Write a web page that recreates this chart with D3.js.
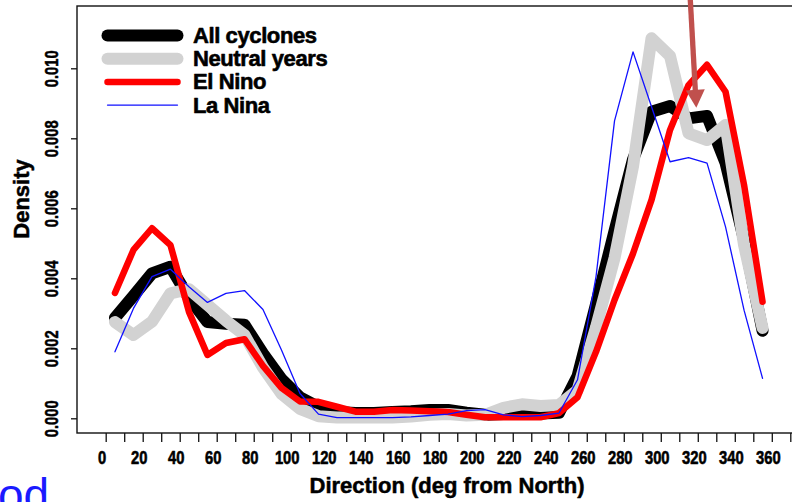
<!DOCTYPE html>
<html>
<head>
<meta charset="utf-8">
<script src="https://cdn.jsdelivr.net/npm/d3@7"></script>
<style>
  html, body { margin: 0; padding: 0; background: #fff; overflow: hidden; }
  svg { display: block; }
  text { font-family: "Liberation Sans", Arial, sans-serif; }
</style>
</head>
<body>
<svg id="chart" width="792" height="502"></svg>
<script>
// Cyclone track direction densities, one value per 10-degree bin (bin centres)
const directions = [5, 15, 25, 35, 45, 55, 65, 75, 85, 95, 105, 115, 125, 135, 145, 155, 165, 175,
                    185, 195, 205, 215, 225, 235, 245, 255, 265, 275, 285, 295, 305, 315, 325, 335, 345, 355];

const allCyclones = [0.00287, 0.00350, 0.00414, 0.00433, 0.00344, 0.00275, 0.00270, 0.00267, 0.00185,
                     0.00112, 0.00060, 0.00032, 0.00018, 0.00015, 0.00015, 0.00018, 0.00020, 0.00024,
                     0.00024, 0.00016, 0.00010, 0.00012, 0.00018, 0.00014, 0.00016, 0.00120, 0.00326,
                     0.00535, 0.00740, 0.00876, 0.00892, 0.00857, 0.00864, 0.00730, 0.00510, 0.00250];

const neutralYears = [0.00275, 0.00238, 0.00276, 0.00357, 0.00369, 0.00324, 0.00279, 0.00238, 0.00145,
                      0.00070, 0.00027, 0.00006, 0.00002, 0.00002, 0.00002, 0.00002, 0.00005, 0.00010,
                      0.00012, 0.00008, 0.00010, 0.00030, 0.00040, 0.00035, 0.00038, 0.00080, 0.00260,
                      0.00458, 0.00720, 0.01086, 0.01035, 0.00814, 0.00795, 0.00838, 0.00495, 0.00258];

const elNino = [0.00358, 0.00481, 0.00543, 0.00495, 0.00304, 0.00181, 0.00215, 0.00226, 0.00150,
                0.00087, 0.00048, 0.00047, 0.00033, 0.00019, 0.00019, 0.00024, 0.00022, 0.00020,
                0.00018, 0.00010, 0.00003, 0.00003, 0.00003, 0.00003, 0.00015, 0.00060, 0.00190,
                0.00338, 0.00471, 0.00624, 0.00824, 0.00952, 0.01010, 0.00933, 0.00667, 0.00333];

const laNina = [0.00190, 0.00314, 0.00405, 0.00426, 0.00376, 0.00331, 0.00357, 0.00365, 0.00311,
                0.00195, 0.00071, 0.00012, 0.00002, 0.00002, 0.00002, 0.00002, 0.00004, 0.00008,
                0.00012, 0.00022, 0.00025, 0.00010, 0.00005, 0.00008, 0.00015, 0.00110, 0.00405,
                0.00850, 0.01047, 0.00890, 0.00733, 0.00745, 0.00729, 0.00547, 0.00309, 0.00114];

const seriesNames = ["All cyclones", "Neutral years", "El Nino", "La Nina"];

const xTickValues = [0, 10, 20, 30, 40, 50, 60, 70, 80, 90, 100, 110, 120, 130, 140, 150, 160, 170, 180,
                     190, 200, 210, 220, 230, 240, 250, 260, 270, 280, 290, 300, 310, 320, 330, 340, 350, 360, 370];
const xLabelValues = [0, 20, 40, 60, 80, 100, 120, 140, 160, 180, 200, 220, 240, 260, 280, 300, 320, 340, 360];
const yTickValues = [0, 0.002, 0.004, 0.006, 0.008, 0.010];

// Annotation arrow, in data units (direction, density)
const arrowFrom = [315.8, 0.0121];
const arrowTo = [319.2, 0.00887];

// ---- drawing ----
const svg = d3.select("#chart");
svg.append("rect").attr("width", 792).attr("height", 502).attr("fill", "#fff");

const x = d3.scaleLinear().domain([0, 370]).range([105.7, 790.3]);
const y = d3.scaleLinear().domain([0, 0.010]).range([418.3, 68.3]);

const series = [allCyclones, neutralYears, elNino, laNina];
const styles = [
  { color: "#000000", width: 12 },
  { color: "#d2d2d2", width: 12 },
  { color: "#ff0000", width: 6.5 },
  { color: "#1010ff", width: 1.3 }
];

// heavier bold text, as in the printed figure
function heavy(sel, w) {
  sel.attr("stroke", "#000").attr("stroke-width", w).attr("stroke-linejoin", "round");
}

// plot frame
svg.append("rect")
  .attr("x", 77).attr("y", 6)
  .attr("width", 760).attr("height", 427)
  .attr("fill", "none").attr("stroke", "#111").attr("stroke-width", 1.4);

// x tick marks
const xTicks = svg.append("g").attr("transform", "translate(0,433)")
  .call(d3.axisBottom(x).tickValues(xTickValues).tickFormat("").tickSize(9));
xTicks.select(".domain").remove();
xTicks.selectAll("line").attr("stroke", "#111").attr("stroke-width", 1.3);

// x tick labels
const xLabels = svg.append("g").attr("transform", "translate(-4,433)")
  .call(d3.axisBottom(x).tickValues(xLabelValues).tickFormat(d3.format("d")).tickSize(0).tickPadding(31));
xLabels.select(".domain").remove();
xLabels.selectAll("text")
  .attr("font-size", 18).attr("font-weight", "bold").attr("fill", "#000")
  .attr("font-family", "'Liberation Sans', Arial, sans-serif")
  .attr("dy", 0)
  .attr("transform", "scale(0.82,1)")
  .call(heavy, 0.6);

// y axis
const yAxis = svg.append("g").attr("transform", "translate(77,0)")
  .call(d3.axisLeft(y).tickValues(yTickValues).tickFormat(d3.format(".3f")).tickSize(6));
yAxis.select(".domain").remove();
yAxis.selectAll("line").attr("stroke", "#111").attr("stroke-width", 1.3);
yAxis.selectAll("text")
  .attr("font-size", 18).attr("font-weight", "bold").attr("fill", "#000")
  .attr("font-family", "'Liberation Sans', Arial, sans-serif")
  .attr("x", 0).attr("y", -19).attr("dy", 0)
  .attr("text-anchor", "middle")
  .attr("transform", "rotate(-90) scale(0.82,1)")
  .call(heavy, 0.5);

// axis titles
svg.append("text")
  .attr("x", 447).attr("y", 493)
  .attr("text-anchor", "middle")
  .attr("font-size", 22).attr("font-weight", "bold")
  .call(heavy, 0.5)
  .text("Direction (deg from North)");

svg.append("text")
  .attr("transform", "translate(29,199) rotate(-90)")
  .attr("text-anchor", "middle")
  .attr("font-size", 22).attr("font-weight", "bold")
  .call(heavy, 0.5)
  .text("Density");

// density curves
const line = d3.line()
  .x((d, i) => x(directions[i]))
  .y(d => y(d));

svg.append("g").selectAll("path")
  .data(series)
  .join("path")
  .attr("d", line)
  .attr("fill", "none")
  .attr("stroke", (d, i) => styles[i].color)
  .attr("stroke-width", (d, i) => styles[i].width)
  .attr("stroke-linejoin", "round")
  .attr("stroke-linecap", "round");

// legend
const legend = svg.append("g");
seriesNames.forEach((name, i) => {
  const ly = 35.5 + 23.2 * i;
  legend.append("line")
    .attr("x1", 107.5).attr("x2", 177.5)
    .attr("y1", ly).attr("y2", ly)
    .attr("stroke", styles[i].color)
    .attr("stroke-width", styles[i].width)
    .attr("stroke-linecap", "round");
  legend.append("text")
    .attr("x", 193).attr("y", ly + 7.5)
    .attr("font-size", 22).attr("font-weight", "bold")
    .attr("letter-spacing", -0.4)
    .call(heavy, 0.6)
    .text(name);
});

// annotation arrow
const ax0 = x(arrowFrom[0]), ay0 = y(arrowFrom[1]);
const ax1 = x(arrowTo[0]), ay1 = y(arrowTo[1]);
const len = Math.hypot(ax1 - ax0, ay1 - ay0);
const ux = (ax1 - ax0) / len, uy = (ay1 - ay0) / len;
const headLen = 18, headHalf = 9.5;
const bx = ax1 - ux * headLen, by = ay1 - uy * headLen;
const arrowColor = "#c0504d";
svg.append("line")
  .attr("x1", ax0).attr("y1", ay0)
  .attr("x2", bx + ux * 2).attr("y2", by + uy * 2)
  .attr("stroke", arrowColor).attr("stroke-width", 5.3);
svg.append("path")
  .attr("d", `M${ax1},${ay1}L${bx - uy * headHalf},${by + ux * headHalf}L${bx + uy * headHalf},${by - ux * headHalf}Z`)
  .attr("fill", arrowColor);

// slide text fragment at the lower left, running off the bottom edge
svg.append("text")
  .attr("x", -2).attr("y", 511)
  .attr("font-size", 46)
  .attr("fill", "#1a1aff")
  .text("od");
</script>
</body>
</html>
